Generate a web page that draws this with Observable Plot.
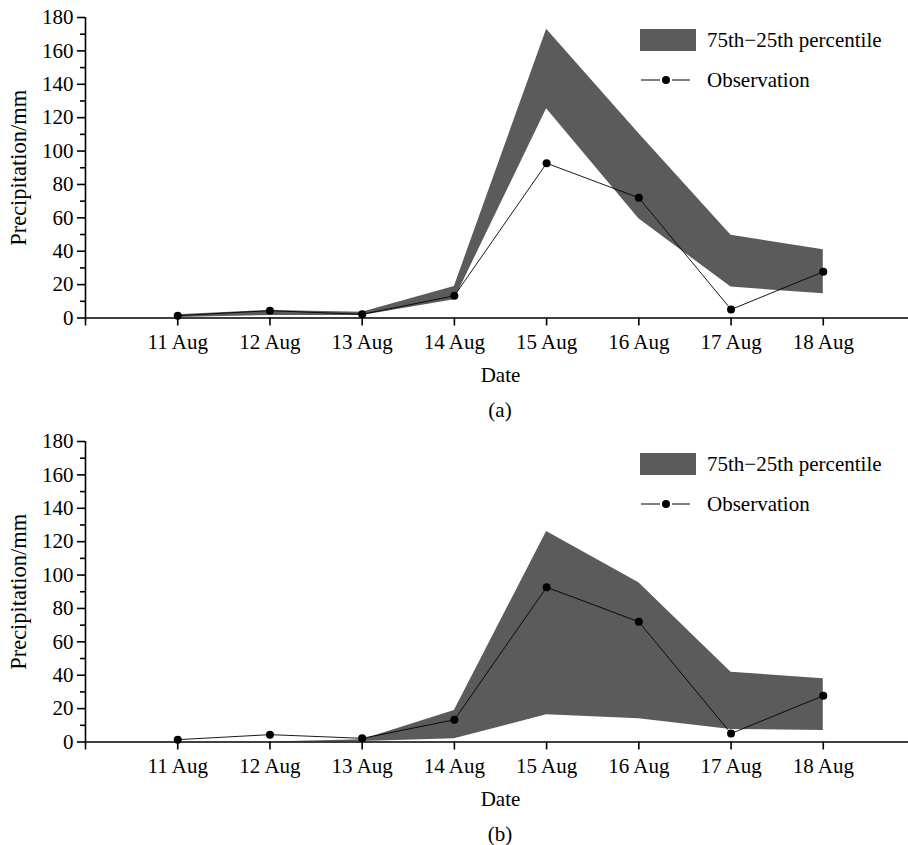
<!DOCTYPE html>
<html>
<head>
<meta charset="utf-8">
<script src="https://cdn.jsdelivr.net/npm/d3@7"></script>
<script src="https://cdn.jsdelivr.net/npm/@observablehq/plot@0.6"></script>
<style>
  body { margin: 0; background: #fff; font-family: "Liberation Serif", "Times New Roman", serif; }
  #wrap { position: relative; width: 908px; height: 845px; overflow: hidden; }
  .panel { position: absolute; left: 0; width: 908px; height: 424px; }
  .legend-item { position: absolute; font-size: 21px; line-height: 22px; color: #000; white-space: nowrap; }
  .caption { position: absolute; left: 500px; top: 396px; transform: translateX(-50%); font-size: 21px; line-height: 28px; color: #000; }
</style>
</head>
<body>
<div id="wrap"></div>
<script>
const dates = [11, 12, 13, 14, 15, 16, 17, 18];
const observation = [1.4, 4.4, 2.2, 13.3, 92.7, 72, 5.1, 27.7];
const bandA_low  = [0.3, 1.5, 1.5, 11, 125.3, 59.4, 18.5, 14.5];
const bandA_high = [2, 4.5, 3.5, 18.9, 173, 110.5, 49.6, 40.9];
const bandB_low  = [0, 0, 0.3, 1.9, 16.3, 13.9, 7.5, 6.9];
const bandB_high = [0, 0, 1.3, 18.9, 126.1, 95.4, 41.8, 37.9];
const xTicks = [10, 11, 12, 13, 14, 15, 16, 17, 18];
const yMajor = [0, 20, 40, 60, 80, 100, 120, 140, 160, 180];
const yMinor = [10, 30, 50, 70, 90, 110, 130, 150, 170];
const panelLabels = ["(a)", "(b)"];
const legendLabels = ["75th\u221225th percentile", "Observation"];
const yLabel = "Precipitation/mm";
const xLabel = "Date";

const BAND = "#5b5b5b";
const wrap = document.getElementById("wrap");

function makePanel(low, high, caption, top) {
  const band = dates.map((d, i) => ({date: d, low: low[i], high: high[i]}));
  const obs = dates.map((d, i) => ({date: d, value: observation[i]}));
  const chart = Plot.plot({
    width: 908,
    height: 392,
    marginLeft: 85,
    marginRight: -7,
    marginTop: 17,
    marginBottom: 74.5,
    style: {fontFamily: "Liberation Serif, Times New Roman, serif", fontSize: "21px", color: "#000", background: "#fff", overflow: "visible"},
    x: {type: "linear", domain: [10, 19]},
    y: {domain: [0, 180]},
    marks: [
      Plot.areaY(band, {x: "date", y1: "low", y2: "high", fill: BAND, curve: "linear"}),
      Plot.line(obs, {x: "date", y: "value", stroke: "#000", strokeWidth: 0.9}),
      Plot.dot(obs, {x: "date", y: "value", r: 4, fill: "#000", stroke: "none"}),
      Plot.ruleY([0], {stroke: "#000", strokeWidth: 1.6}),
      Plot.ruleX([10], {y1: 0, y2: 180, stroke: "#000", strokeWidth: 1.6}),
      Plot.axisY({ticks: yMajor, tickSize: 8, tickPadding: 4, tickFormat: d => String(d), fontSize: 21, strokeWidth: 1.6, label: null}),
      Plot.axisY({ticks: yMinor, tickSize: 5, tickFormat: () => "", strokeWidth: 1.6, label: null}),
      Plot.axisX({ticks: xTicks, tickSize: 8, tickPadding: 8, tickFormat: d => d === 10 ? "" : `${d} Aug`, fontSize: 21, strokeWidth: 1.6, label: null}),
      Plot.text([xLabel], {frameAnchor: "bottom", dy: 57, fontSize: 21, fill: "#000", lineAnchor: "middle"}),
      Plot.text([yLabel], {frameAnchor: "left", dx: -67, rotate: -90, fontSize: 22.5, fill: "#000", lineAnchor: "middle", textAnchor: "middle"})
    ]
  });
  const panel = document.createElement("div");
  panel.className = "panel";
  panel.style.top = top + "px";
  panel.appendChild(chart);

  const l1 = document.createElement("div");
  l1.className = "legend-item";
  l1.style.left = "640px"; l1.style.top = "29px";
  l1.innerHTML = `<span style="display:inline-block;width:56px;height:22px;background:${BAND};vertical-align:top"></span><span style="position:absolute;left:67px;top:0">${legendLabels[0]}</span>`;
  panel.appendChild(l1);

  const l2 = document.createElement("div");
  l2.className = "legend-item";
  l2.style.left = "640px"; l2.style.top = "69px";
  l2.innerHTML = `<svg width="56" height="22" style="vertical-align:top;display:inline-block"><line x1="1" x2="20" y1="11" y2="11" stroke="#000" stroke-width="1"/><circle cx="26" cy="11" r="4" fill="#000"/><line x1="32" x2="50" y1="11" y2="11" stroke="#000" stroke-width="1"/></svg><span style="position:absolute;left:67px;top:0">${legendLabels[1]}</span>`;
  panel.appendChild(l2);

  const cap = document.createElement("div");
  cap.className = "caption";
  cap.textContent = caption;
  panel.appendChild(cap);

  wrap.appendChild(panel);
}

makePanel(bandA_low, bandA_high, panelLabels[0], 0);
makePanel(bandB_low, bandB_high, panelLabels[1], 424);
</script>
</body>
</html>
